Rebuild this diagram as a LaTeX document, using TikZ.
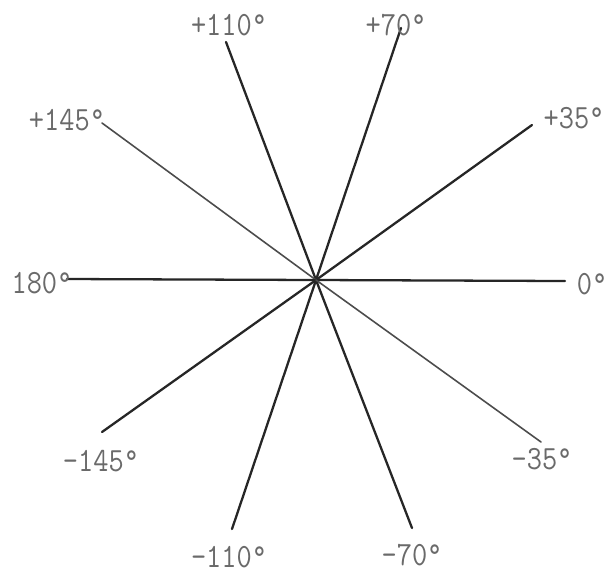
\documentclass[tikz,border=0pt]{standalone}
\usepackage{fontspec}
\usepackage{graphicx}
\definecolor{lblgray}{HTML}{6A6A6A}
\tikzset{
  ray/.style={line width=1.3pt, draw=black!85, line cap=round},
  thinray/.style={line width=0.9pt, draw=black!70, line cap=round},
  lbl/.style={text=lblgray, inner sep=0pt, font=\ttfamily\fontsize{16.8}{18}\selectfont}
}
\newcommand{\tall}[1]{\scalebox{1}[1.15]{#1}}
\begin{document}
\begin{tikzpicture}[x=0.02cm, y=-0.02cm]
\useasboundingbox[fill=white] (0,0) rectangle (608,576);
\coordinate (c) at (316,280);
\coordinate (e0) at (565,281);
\coordinate (e35) at (532,125);
\coordinate (e70) at (401,28);
\coordinate (e110) at (226,42);
\coordinate (e145) at (102,123);
\coordinate (e180) at (67,279);
\coordinate (em145) at (102,432);
\coordinate (em110) at (232,529);
\coordinate (em70) at (412,528);
\coordinate (em35) at (541,442);
\draw[ray] (c) -- (e0);
\draw[ray] (c) -- (e35);
\draw[ray] (c) -- (e70);
\draw[ray] (c) -- (e110);
\draw[thinray] (c) -- (e145);
\draw[ray] (c) -- (e180);
\draw[ray] (c) -- (em145);
\draw[ray] (c) -- (em110);
\draw[ray] (c) -- (em70);
\draw[thinray] (c) -- (em35);
\node[lbl] (l0) at (592,284) {\tall{0°}};
\node[lbl] (l35) at (574,118) {\tall{+35°}};
\node[lbl] (l70) at (396,25) {\tall{+70°}};
\node[lbl] (l110) at (229,25) {\tall{+110°}};
\node[lbl] (l145) at (67,120) {\tall{+145°}};
\node[lbl] (l180) at (42,283) {\tall{180°}};
\node[lbl] (lm145) at (101,461) {\tall{-145°}};
\node[lbl] (lm110) at (229,557) {\tall{-110°}};
\node[lbl] (lm70) at (412,555) {\tall{-70°}};
\node[lbl] (lm35) at (542,459) {\tall{-35°}};
\end{tikzpicture}
\end{document}
